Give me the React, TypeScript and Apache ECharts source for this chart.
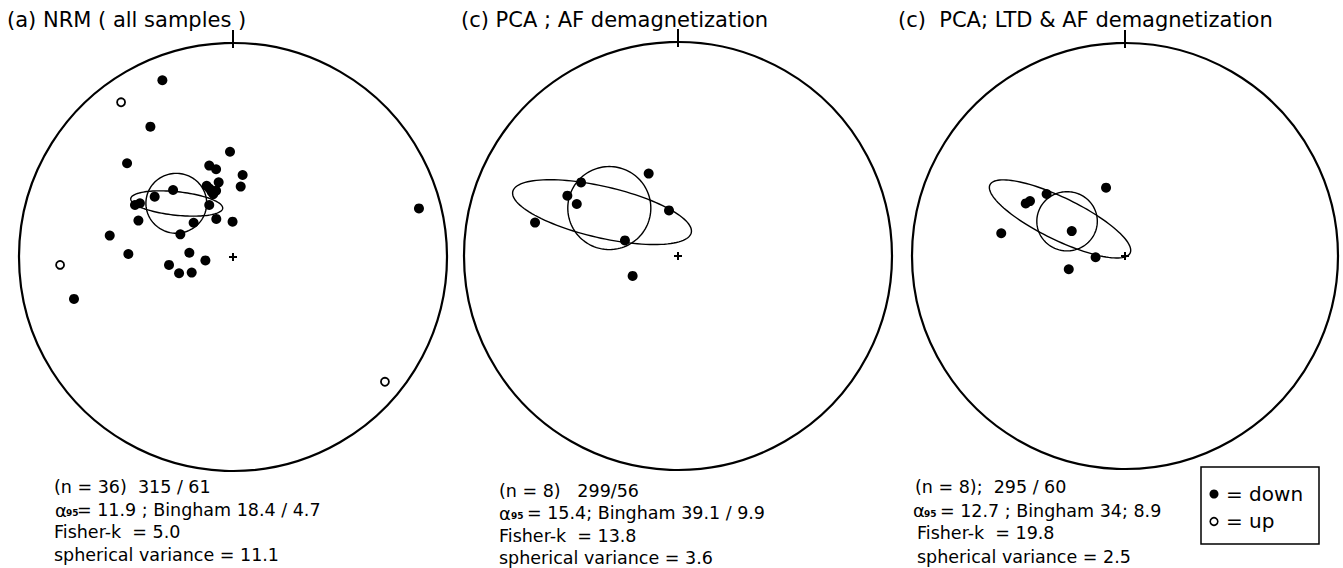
import React, { useEffect, useRef } from "react";
import * as echarts from "echarts";

// Equal-area projected directions, normalized to the primitive circle radius (x = east, y = north)
const nrmDown: number[][] = [
  [-0.330, 0.826], [-0.386, 0.609], [-0.014, 0.492], [-0.495, 0.438], [-0.111, 0.427],
  [-0.079, 0.410], [0.045, 0.383], [-0.067, 0.349], [0.036, 0.329], [-0.123, 0.333],
  [-0.100, 0.305], [-0.079, 0.310], [-0.092, 0.294], [-0.110, 0.320], [-0.280, 0.313],
  [-0.366, 0.282], [-0.458, 0.243], [-0.435, 0.251], [-0.111, 0.243], [0.869, 0.227],
  [-0.442, 0.170], [-0.184, 0.160], [-0.078, 0.178], [-0.002, 0.165], [-0.246, 0.106],
  [-0.576, 0.100], [-0.489, 0.014], [-0.204, 0.020], [-0.129, -0.016], [-0.299, -0.037],
  [-0.252, -0.076], [-0.193, -0.073], [-0.743, -0.196],
];
const nrmUp: number[][] = [[-0.523, 0.723], [-0.808, -0.037], [0.710, -0.583]];

const afDown: number[][] = [
  [-0.137, 0.385], [-0.453, 0.344], [-0.517, 0.282], [-0.473, 0.243],
  [-0.042, 0.213], [-0.668, 0.156], [-0.248, 0.073], [-0.212, -0.093],
];
const afUp: number[][] = [];

const ltdDown: number[][] = [
  [-0.089, 0.321], [-0.368, 0.291], [-0.466, 0.247], [-0.446, 0.258],
  [-0.250, 0.117], [-0.581, 0.107], [-0.138, -0.006], [-0.264, -0.062],
];
const ltdUp: number[][] = [];

// Confidence ellipses: [centerX, centerY, semiAxisA, semiAxisB, rotationDeg]
const nrmEllipses: number[][] = [[-0.265, 0.251, 0.142, 0.140, 0], [-0.263, 0.250, 0.216, 0.055, -6]];
const afEllipses: number[][] = [[-0.321, 0.224, 0.194, 0.194, 0], [-0.355, 0.205, 0.428, 0.12, -13]];
const ltdEllipses: number[][] = [[-0.272, 0.163, 0.142, 0.139, 0], [-0.305, 0.174, 0.366, 0.099, -26]];

const titles = ["(a) NRM ( all samples )", "(c) PCA ; AF demagnetization", "(c)  PCA; LTD & AF demagnetization"];
const statsN = ["(n = 36)  315 / 61", "(n = 8)   299/56", "(n = 8);  295 / 60"];
const statsAlpha = ["= 11.9 ; Bingham 18.4 / 4.7", "= 15.4; Bingham 39.1 / 9.9", "= 12.7 ; Bingham 34; 8.9"];
const statsFisher = ["Fisher-k  = 5.0", "Fisher-k  = 13.8", "Fisher-k  = 19.8"];
const statsVar = ["spherical variance = 11.1", "spherical variance = 3.6", "spherical variance = 2.5"];

const FONT = "DejaVu Sans";

export default function App() {
  const ref = useRef<HTMLDivElement>(null);
  useEffect(() => {
    document.body.style.margin = "0";
    const chart = echarts.init(ref.current!, null, { renderer: "svg" });

    const panels = [
      { cx: 233, cy: 257, r: 214, down: nrmDown, up: nrmUp, ell: nrmEllipses },
      { cx: 678, cy: 256, r: 214, down: afDown, up: afUp, ell: afEllipses },
      { cx: 1125, cy: 256, r: 213, down: ltdDown, up: ltdUp, ell: ltdEllipses },
    ];

    const grid: any[] = [];
    const xAxis: any[] = [];
    const yAxis: any[] = [];
    const series: any[] = [];

    panels.forEach((p, i) => {
      grid.push({ left: p.cx - p.r, top: p.cy - p.r, width: 2 * p.r, height: 2 * p.r });
      xAxis.push({ type: "value", min: -1, max: 1, show: false, gridIndex: i });
      yAxis.push({ type: "value", min: -1, max: 1, show: false, gridIndex: i });
      // primitive circle, north tick and centre cross
      series.push({
        type: "custom",
        xAxisIndex: i,
        yAxisIndex: i,
        silent: true,
        clip: false,
        data: [[0, 0]],
        renderItem: (_params: any, api: any) => {
          const c = api.coord([0, 0]);
          const t = api.coord([0, 1]);
          const r = c[1] - t[1];
          return {
            type: "group",
            children: [
              { type: "circle", shape: { cx: c[0], cy: c[1], r }, style: { fill: "none", stroke: "#000", lineWidth: 2.2 } },
              { type: "line", shape: { x1: t[0], y1: t[1] - 13, x2: t[0], y2: t[1] + 5 }, style: { stroke: "#000", lineWidth: 2 } },
              { type: "line", shape: { x1: c[0] - 4, y1: c[1], x2: c[0] + 4, y2: c[1] }, style: { stroke: "#000", lineWidth: 2 } },
              { type: "line", shape: { x1: c[0], y1: c[1] - 4, x2: c[0], y2: c[1] + 4 }, style: { stroke: "#000", lineWidth: 2 } },
            ],
          };
        },
      });
      // confidence ellipses
      series.push({
        type: "custom",
        xAxisIndex: i,
        yAxisIndex: i,
        silent: true,
        clip: false,
        data: p.ell,
        renderItem: (_params: any, api: any) => {
          const ex = api.value(0), ey = api.value(1), a = api.value(2), b = api.value(3);
          const th = (api.value(4) * Math.PI) / 180;
          const pts: number[][] = [];
          for (let k = 0; k < 120; k++) {
            const s = (k / 120) * 2 * Math.PI;
            const x = ex + a * Math.cos(s) * Math.cos(th) - b * Math.sin(s) * Math.sin(th);
            const y = ey + a * Math.cos(s) * Math.sin(th) + b * Math.sin(s) * Math.cos(th);
            pts.push(api.coord([x, y]));
          }
          return { type: "polygon", shape: { points: pts }, style: { fill: "none", stroke: "#000", lineWidth: 1.4 } };
        },
      });
      series.push({
        type: "scatter",
        xAxisIndex: i,
        yAxisIndex: i,
        symbol: "circle",
        symbolSize: 10,
        itemStyle: { color: "#000", opacity: 1 },
        data: p.down,
        silent: true,
      });
      series.push({
        type: "scatter",
        xAxisIndex: i,
        yAxisIndex: i,
        symbol: "circle",
        symbolSize: 8,
        itemStyle: { color: "#fff", borderColor: "#000", borderWidth: 1.8, opacity: 1 },
        data: p.up,
        silent: true,
      });
    });

    const txt = (x: number, y: number, text: string, size: number, extra: any = {}) => ({
      type: "text",
      x,
      y,
      silent: true,
      style: { text, fill: "#000", font: `${size}px '${FONT}'`, fontFamily: FONT, fontSize: size, verticalAlign: "middle", align: "left", ...extra },
    });

    const titleX = [7, 461, 898];
    const nX = [54, 499, 915];
    const alphaX = [55, 499, 913];
    const subX = [66, 511, 924];
    const restX = [77, 527, 940];
    const restLinesX = [54, 499, 917];
    const lineY = [
      [487, 510, 532, 555],
      [491, 513, 535.5, 558],
      [487, 510.5, 533, 556.5],
    ];

    const graphic: any[] = [];
    for (let i = 0; i < 3; i++) {
      graphic.push(txt(titleX[i], 20, titles[i], 21));
      graphic.push(txt(nX[i], lineY[i][0], statsN[i], 17.5));
      graphic.push(txt(alphaX[i], lineY[i][1], "α", 18));
      graphic.push(txt(subX[i], lineY[i][1] + 3, "95", 9, { fontWeight: "bold" }));
      graphic.push(txt(restX[i], lineY[i][1], statsAlpha[i], 17.5));
      graphic.push(txt(restLinesX[i], lineY[i][2], statsFisher[i], 17.5));
      graphic.push(txt(restLinesX[i], lineY[i][3], statsVar[i], 17.5));
    }
    // legend box
    graphic.push({ type: "rect", silent: true, shape: { x: 1201, y: 467, width: 118, height: 77 }, style: { fill: "#fff", stroke: "#000", lineWidth: 1.5 } });
    graphic.push({ type: "circle", silent: true, shape: { cx: 1214, cy: 494, r: 4.5 }, style: { fill: "#000" } });
    graphic.push({ type: "circle", silent: true, shape: { cx: 1214, cy: 521.5, r: 3.8 }, style: { fill: "#fff", stroke: "#000", lineWidth: 1.6 } });
    graphic.push(txt(1226, 494, "= down", 20));
    graphic.push(txt(1226, 521, "= up", 20));

    chart.setOption({
      animation: false,
      backgroundColor: "#fff",
      grid,
      xAxis,
      yAxis,
      series,
      graphic,
    });
    return () => chart.dispose();
  }, []);
  return <div ref={ref} style={{ width: 1343, height: 568, position: "absolute", left: 0, top: 0 }} />;
}
